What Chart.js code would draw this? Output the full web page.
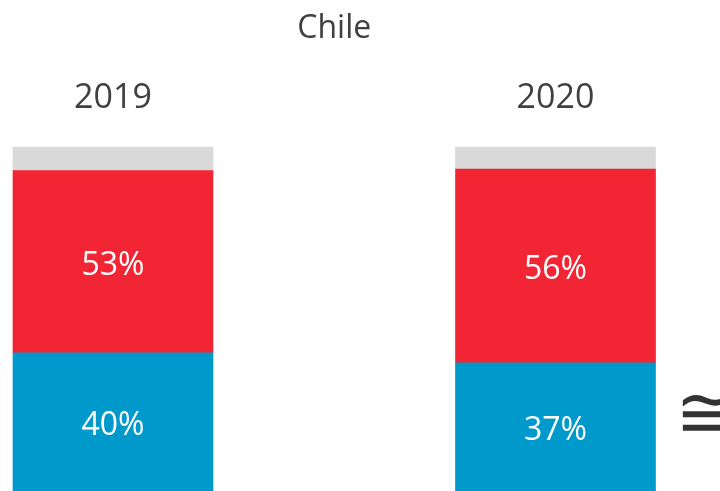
<!DOCTYPE html>
<html>
<head>
<meta charset="utf-8">
<script src="https://cdn.jsdelivr.net/npm/chart.js@4"></script>
<style>
  html, body { margin: 0; padding: 0; background: #fff; }
  #wrap { width: 720px; height: 491px; position: relative; }
</style>
</head>
<body>
<div id="wrap"><canvas id="grafico"></canvas></div>
<script>
// dados
const anos = ['2019', '2020'];
const azul = [40.2, 37.3];
const vermelho = [53.0, 56.3];
const cinza = [6.8, 6.4];

const fonte = '"Open Sans", "Noto Sans", sans-serif';

// rotulos brancos no meio de cada segmento (menos o cinza)
const rotulos = {
  id: 'rotulos',
  afterDatasetsDraw(chart) {
    const ctx = chart.ctx;
    ctx.save();
    ctx.fillStyle = '#ffffff';
    ctx.font = '32px ' + fonte;
    ctx.textAlign = 'center';
    ctx.textBaseline = 'middle';
    chart.data.datasets.forEach((ds, i) => {
      if (!ds.mostrarRotulo) return;
      chart.getDatasetMeta(i).data.forEach((bar, j) => {
        const y = (bar.y + bar.base) / 2 + 4;
        ctx.fillText(Math.round(ds.data[j]) + '%', bar.x, y);
      });
    });
    // simbolo na borda direita
    ctx.fillStyle = '#333333';
    ctx.font = '72px "DejaVu Sans", sans-serif';
    ctx.textAlign = 'left';
    ctx.fillText('≅', 675, 418);
    ctx.restore();
  }
};

new Chart(document.getElementById('grafico'), {
  type: 'bar',
  data: {
    labels: anos,
    datasets: [
      { data: azul, backgroundColor: '#0099cc', mostrarRotulo: true },
      { data: vermelho, backgroundColor: '#f22535', mostrarRotulo: true },
      { data: cinza, backgroundColor: '#d9d9d9', mostrarRotulo: false }
    ]
  },
  options: {
    responsive: true,
    maintainAspectRatio: false,
    animation: false,
    layout: { padding: { left: 113, right: 164.5, top: 0, bottom: 0 } },
    datasets: { bar: { barThickness: 200, clip: false, borderWidth: 0 } },
    plugins: {
      legend: { display: false },
      tooltip: { enabled: false },
      title: {
        display: true,
        text: 'Chile',
        color: '#404040',
        font: { family: fonte, size: 32, weight: 'normal' },
        padding: { top: 10, bottom: 10 }
      }
    },
    scales: {
      x: {
        position: 'top',
        stacked: true,
        offset: false,
        grid: { display: false },
        border: { display: false },
        ticks: {
          color: '#404040',
          font: { family: fonte, size: 34 },
          padding: 20,
          maxRotation: 0,
          autoSkip: false
        }
      },
      y: {
        stacked: true,
        display: false,
        min: 0,
        max: 100
      }
    }
  },
  plugins: [rotulos]
});
</script>
</body>
</html>
